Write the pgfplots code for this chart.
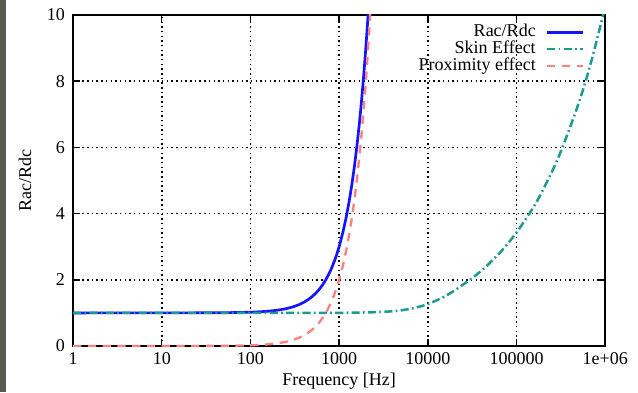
\documentclass[border=0pt]{standalone}
\usepackage{pgfplots}
\pgfplotsset{compat=1.18}
\usepackage{fontspec}
\setmainfont{Liberation Serif}
\definecolor{cblue}{RGB}{20,20,255}
\definecolor{cteal}{RGB}{30,155,145}
\definecolor{cpink}{RGB}{255,128,128}
\definecolor{stripc}{RGB}{88,90,80}
\begin{document}
\begin{tikzpicture}
\begin{axis}[
  scale only axis, width=295.6pt, height=183.9pt,
  xmode=log, log basis x=10,
  xmin=1, xmax=1e6, ymin=0, ymax=10,
  xtick={1,10,100,1000,10000,100000,1000000},
  xticklabels={1,10,100,1000,10000,100000,1e+06},
  ytick={0,2,4,6,8,10},
  grid=major,
  major grid style={black, line width=0.85pt, dash pattern=on 0.8pt off 1.8pt},
  axis line style={black, line width=0.9pt},
  tick style={black, line width=0.8pt},
  major tick length=4pt, minor tick length=2.2pt,
  tick align=inside,
  /pgf/number format/assume math mode=true,
  ticklabel style={font=\fontsize{10}{12}\selectfont},
  y tick label style={xshift=-1pt},
  label style={font=\fontsize{10}{12}\selectfont},
  xlabel={Frequency [Hz]}, ylabel={Rac/Rdc},
  xlabel style={at={(axis description cs:0.5,-0.1055)}, anchor=center},
  ylabel style={at={(axis description cs:-0.0903,0.5)}, anchor=center},
  legend cell align=right, legend plot pos=right,
  legend image code/.code={\draw[#1] (0pt,0pt) -- (20pt,0pt);},
  legend style={at={(axis description cs:1,1)}, anchor=north east,
    xshift=-11.5pt, yshift=-5pt, draw=none, fill=none, inner sep=0pt,
    outer sep=0pt, row sep=0pt, column sep=5.6pt,
    nodes={inner sep=0pt, text height=7pt, text depth=2.3pt,
      font=\fontsize{10}{12}\selectfont}},
]
\addplot[cblue, line width=1.5pt] coordinates {
(1,1.0) (10,1.0002) (20,1.0008) (50,1.005) (100,1.02) (150,1.045) (200,1.08)
(250,1.125) (300,1.18) (350,1.245) (400,1.321) (450,1.406) (500,1.501)
(550,1.606) (600,1.721) (650,1.846) (700,1.982) (750,2.127) (800,2.282)
(850,2.447) (900,2.623) (950,2.808) (1000,3.003) (1100,3.424) (1200,3.885)
(1300,4.386) (1400,4.927) (1500,5.508) (1600,6.129) (1700,6.79) (1800,7.491)
(1900,8.232) (2000,9.013) (2100,9.835) (2200,10.696) (2300,11.6)};
\addlegendentry{Rac/Rdc}
\addplot[cteal, line width=1.4pt, dash pattern=on 4.5pt off 1.8pt on 1pt off 1.8pt, smooth] coordinates {
(1,1.0) (100,1.0) (1000,1.003) (2000,1.014) (3000,1.03) (4000,1.05) (5000,1.078)
(7000,1.148) (10000,1.265) (15000,1.48) (20000,1.678) (30000,2.007)
(40000,2.27) (50000,2.51) (70000,2.915) (100000,3.43) (150000,4.13)
(200000,4.73) (300000,5.73) (500000,7.32) (700000,8.62) (1000000,10.26)};
\addlegendentry{Skin Effect}
\addplot[cpink, line width=1.3pt, dash pattern=on 4.6pt off 3.6pt] coordinates {
(1,0.0) (10,0.0002) (20,0.0008) (50,0.005) (100,0.02) (150,0.045) (200,0.08)
(250,0.125) (300,0.18) (350,0.245) (400,0.32) (450,0.405) (500,0.5)
(550,0.605) (600,0.72) (650,0.845) (700,0.98) (750,1.125) (800,1.28)
(850,1.445) (900,1.62) (950,1.805) (1000,2.0) (1100,2.42) (1200,2.88)
(1300,3.38) (1400,3.92) (1500,4.5) (1600,5.12) (1700,5.78) (1800,6.48)
(1900,7.22) (2000,8.0) (2100,8.82) (2200,9.68) (2300,10.58) (2400,11.52)};
\addlegendentry{Proximity effect}
\end{axis}
\fill[stripc] (-40.6pt,-25.6pt) rectangle (-37.3pt,192.2pt);
\pgfresetboundingbox
\useasboundingbox (-40.6pt,-25.6pt) rectangle (313.8pt,192.2pt);
\end{tikzpicture}
\end{document}
